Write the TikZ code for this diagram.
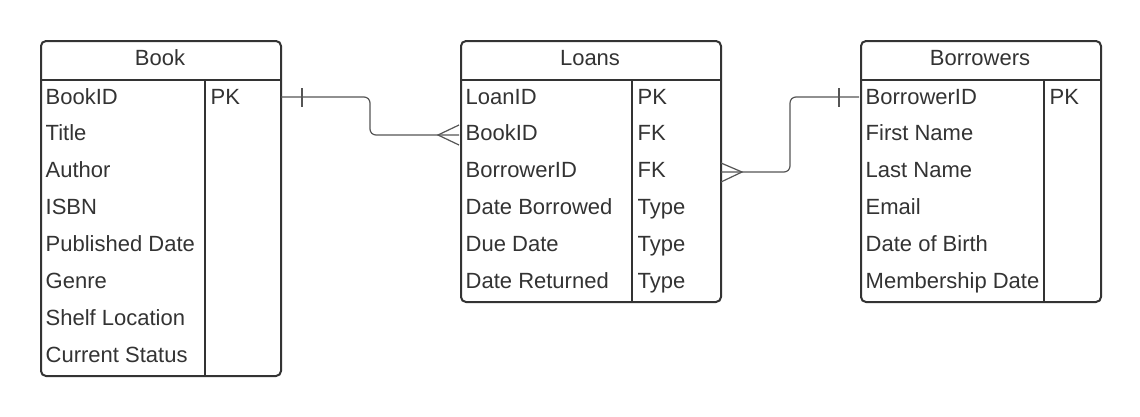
\documentclass[tikz,border=0pt]{standalone}
\usepackage{fontspec}
\setmainfont{Liberation Sans}
\definecolor{ink}{HTML}{333333}
\definecolor{wirec}{HTML}{555555}
\begin{document}
\begin{tikzpicture}[x=1pt,y=-1pt,
  font=\fontsize{22}{26}\selectfont, text=ink,
  tbl/.style={draw=ink, line width=2pt, rounded corners=5pt, inner sep=0pt, anchor=north west, fill=white},
  sep/.style={draw=ink, line width=2pt},
  fld/.style={anchor=base west, inner sep=0pt},
  ttl/.style={anchor=base, inner sep=0pt},
  wire/.style={draw=wirec, line width=1.2pt, rounded corners=6pt},
  mark1/.style={draw=wirec, line width=1.2pt}]
\path[use as bounding box] (0,0) rectangle (1140,416);

% Book
\node[tbl, minimum width=240pt, minimum height=335pt] (book) at (40,40) {};
\draw[sep] (40,80) -- (280,80);
\draw[sep] (205,80) -- (205,375);
\node[ttl] (bookT) at (160,65) {Book};
\foreach \t [count=\i from 0] in {BookID,Title,Author,ISBN,Published Date,Genre,Shelf Location,Current Status}
  \node[fld] (book-\i) at (45.5,104+36.9*\i) {\t};
\node[fld] (bookK0) at (210.5,104) {PK};

% Loans
\node[tbl, minimum width=260pt, minimum height=261pt] (loans) at (460,40) {};
\draw[sep] (460,80) -- (720,80);
\draw[sep] (632,80) -- (632,301);
\node[ttl] (loansT) at (590,65) {Loans};
\foreach \t [count=\i from 0] in {LoanID,BookID,BorrowerID,Date Borrowed,Due Date,Date Returned}
  \node[fld] (loans-\i) at (465.5,104+36.9*\i) {\t};
\foreach \t [count=\i from 0] in {PK,FK,FK,Type,Type,Type}
  \node[fld] (loansK\i) at (637.5,104+36.9*\i) {\t};

% Borrowers
\node[tbl, minimum width=240pt, minimum height=261pt] (borr) at (860,40) {};
\draw[sep] (860,80) -- (1100,80);
\draw[sep] (1044,80) -- (1044,301);
\node[ttl] (borrT) at (980,65) {Borrowers};
\foreach \t [count=\i from 0] in {BorrowerID,First Name,Last Name,Email,Date of Birth,Membership Date}
  \node[fld] (borr-\i) at (865.5,104+36.9*\i) {\t};
\node[fld] (borrK0) at (1049.5,104) {PK};

% Connector Book -> Loans
\coordinate (c1s) at (281,97);
\coordinate (c1e) at (459,135);
\draw[wire] (c1s) -- (370,97) |- (c1e);
\draw[mark1] (302,88) -- (302,107);
\draw[mark1] (459,125) -- (438,135) -- (459,145);

% Connector Loans -> Borrowers
\coordinate (c2s) at (721,172);
\coordinate (c2e) at (859,97);
\draw[wire] (c2s) -- (790,172) |- (c2e);
\draw[mark1] (839,88) -- (839,107);
\draw[mark1] (721,163) -- (742,172) -- (721,182);
\end{tikzpicture}
\end{document}
